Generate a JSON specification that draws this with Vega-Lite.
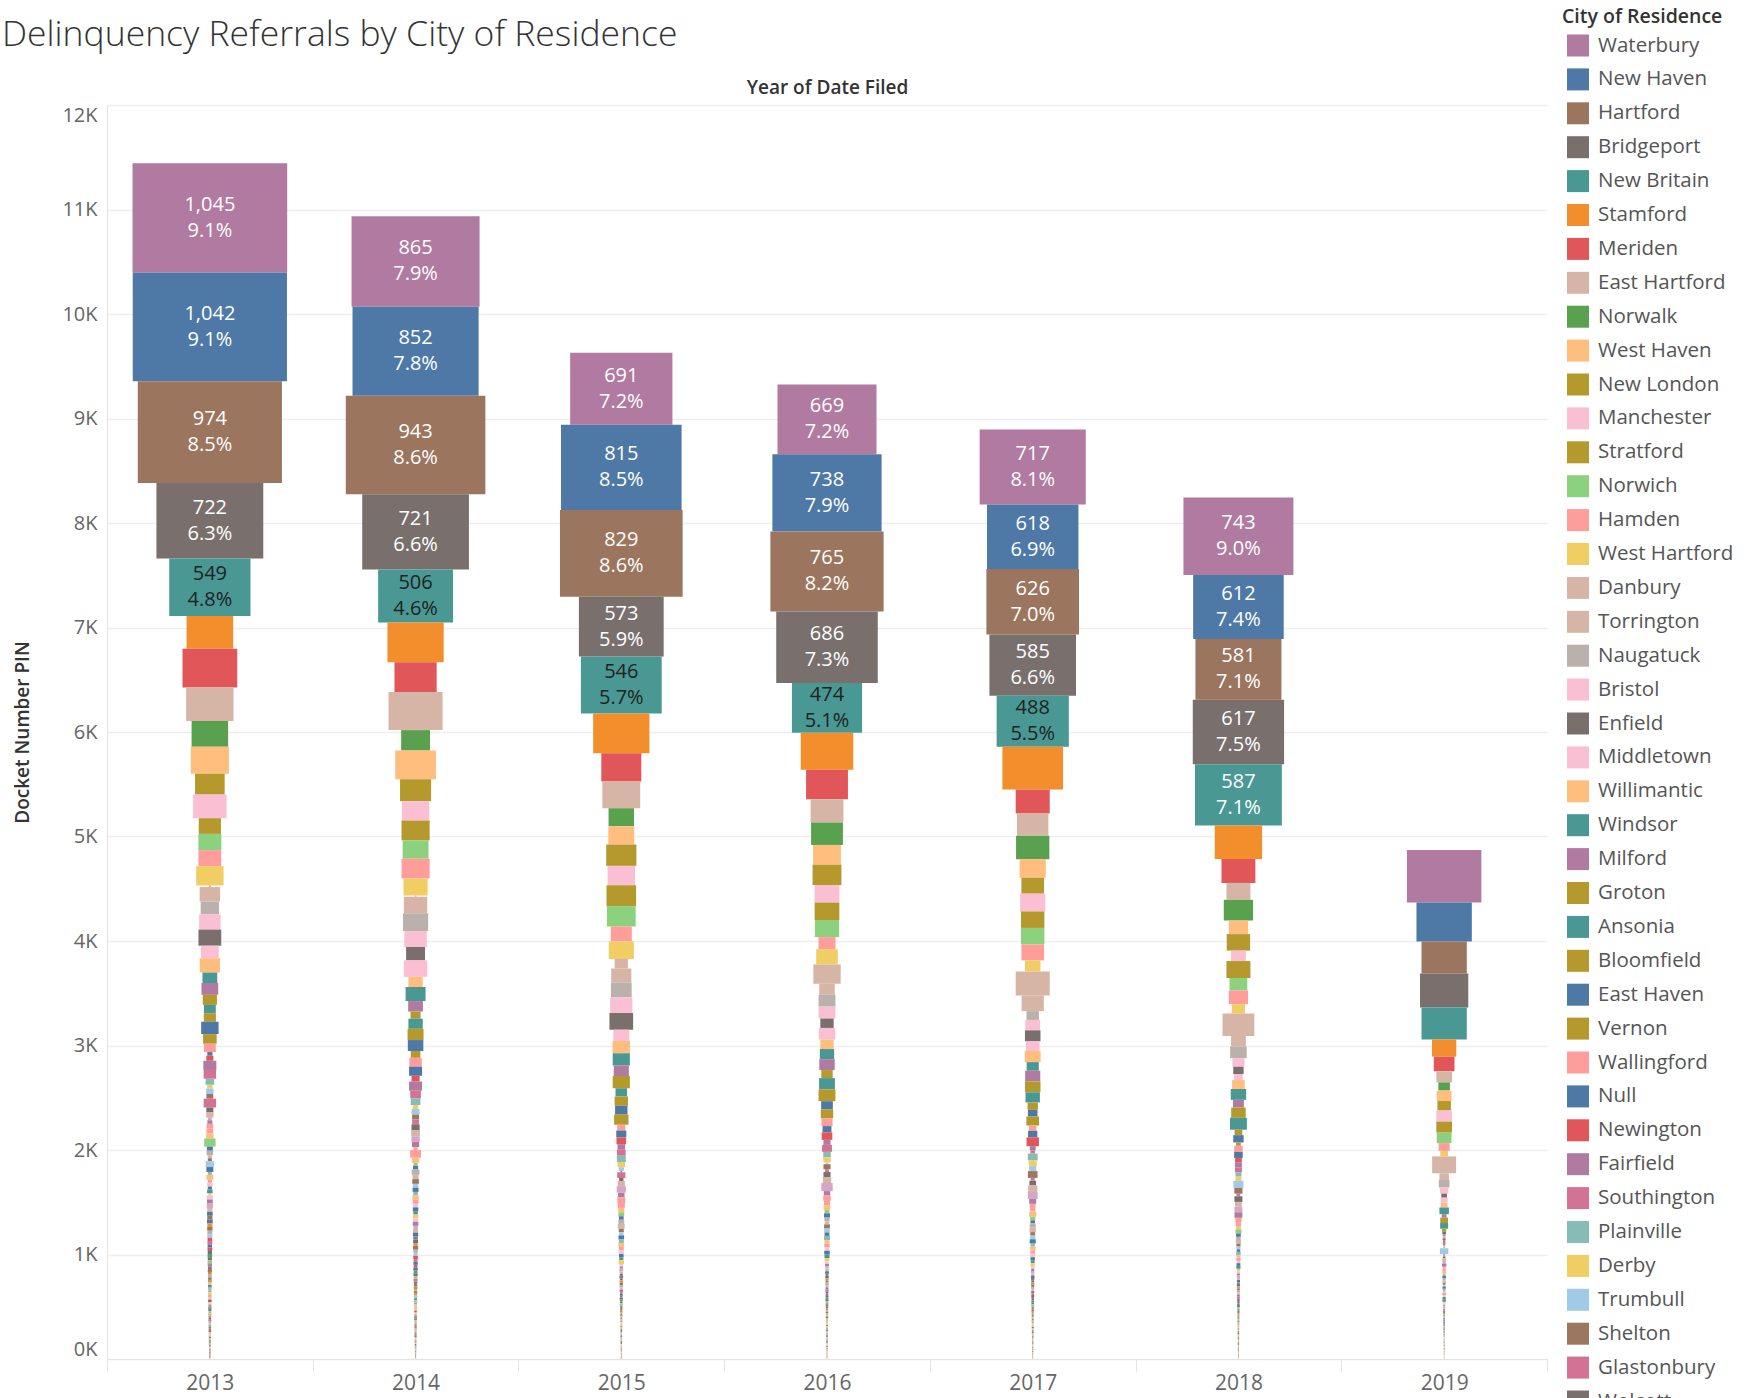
{
"$schema":"https://vega.github.io/schema/vega-lite/v6.json",
"width":1440,"height":1254,
"autosize":{"type":"none"},
"padding":{"left":107,"top":105,"right":199,"bottom":39},
"background":"white",
"config":{"view":{"stroke":null},"font":"Open Sans","axis":{"labelFont":"Open Sans","titleFont":"Open Sans"},"legend":{"labelFont":"Open Sans","titleFont":"Open Sans"}},
"title":{"text":"Delinquency Referrals by City of Residence","anchor":"start","frame":"group","dx":-105,"fontSize":35.5,"font":"Open Sans","fontWeight":300,"color":"#333333","baseline":"bottom","offset":-80},
"data":{"values":[
{"y":2013,"c":"Waterbury","n":1045,"p":"9.1%"},{"y":2014,"c":"Waterbury","n":865,"p":"7.9%"},{"y":2015,"c":"Waterbury","n":691,"p":"7.2%"},{"y":2016,"c":"Waterbury","n":669,"p":"7.2%"},{"y":2017,"c":"Waterbury","n":717,"p":"8.1%"},{"y":2018,"c":"Waterbury","n":743,"p":"9.0%"},{"y":2019,"c":"Waterbury","n":503},
{"y":2013,"c":"New Haven","n":1042,"p":"9.1%"},{"y":2014,"c":"New Haven","n":852,"p":"7.8%"},{"y":2015,"c":"New Haven","n":815,"p":"8.5%"},{"y":2016,"c":"New Haven","n":738,"p":"7.9%"},{"y":2017,"c":"New Haven","n":618,"p":"6.9%"},{"y":2018,"c":"New Haven","n":612,"p":"7.4%"},{"y":2019,"c":"New Haven","n":374},
{"y":2013,"c":"Hartford","n":974,"p":"8.5%"},{"y":2014,"c":"Hartford","n":943,"p":"8.6%"},{"y":2015,"c":"Hartford","n":829,"p":"8.6%"},{"y":2016,"c":"Hartford","n":765,"p":"8.2%"},{"y":2017,"c":"Hartford","n":626,"p":"7.0%"},{"y":2018,"c":"Hartford","n":581,"p":"7.1%"},{"y":2019,"c":"Hartford","n":306},
{"y":2013,"c":"Bridgeport","n":722,"p":"6.3%"},{"y":2014,"c":"Bridgeport","n":721,"p":"6.6%"},{"y":2015,"c":"Bridgeport","n":573,"p":"5.9%"},{"y":2016,"c":"Bridgeport","n":686,"p":"7.3%"},{"y":2017,"c":"Bridgeport","n":585,"p":"6.6%"},{"y":2018,"c":"Bridgeport","n":617,"p":"7.5%"},{"y":2019,"c":"Bridgeport","n":326},
{"y":2013,"c":"New Britain","n":549,"p":"4.8%"},{"y":2014,"c":"New Britain","n":506,"p":"4.6%"},{"y":2015,"c":"New Britain","n":546,"p":"5.7%"},{"y":2016,"c":"New Britain","n":474,"p":"5.1%"},{"y":2017,"c":"New Britain","n":488,"p":"5.5%"},{"y":2018,"c":"New Britain","n":587,"p":"7.1%"},{"y":2019,"c":"New Britain","n":306},
{"y":2013,"c":"Stamford","n":315},{"y":2014,"c":"Stamford","n":380},{"y":2015,"c":"Stamford","n":380},{"y":2016,"c":"Stamford","n":355},{"y":2017,"c":"Stamford","n":410},{"y":2018,"c":"Stamford","n":320},{"y":2019,"c":"Stamford","n":164},
{"y":2013,"c":"Meriden","n":370},{"y":2014,"c":"Meriden","n":285},{"y":2015,"c":"Meriden","n":270},{"y":2016,"c":"Meriden","n":283},{"y":2017,"c":"Meriden","n":230},{"y":2018,"c":"Meriden","n":229},{"y":2019,"c":"Meriden","n":140},
{"y":2013,"c":"East Hartford","n":320},{"y":2014,"c":"East Hartford","n":365},{"y":2015,"c":"East Hartford","n":256},{"y":2016,"c":"East Hartford","n":222},{"y":2017,"c":"East Hartford","n":212},{"y":2018,"c":"East Hartford","n":162},{"y":2019,"c":"East Hartford","n":106},
{"y":2013,"c":"Norwalk","n":247},{"y":2014,"c":"Norwalk","n":195},{"y":2015,"c":"Norwalk","n":172},{"y":2016,"c":"Norwalk","n":215},{"y":2017,"c":"Norwalk","n":225},{"y":2018,"c":"Norwalk","n":198},{"y":2019,"c":"Norwalk","n":78},
{"y":2013,"c":"West Haven","n":258},{"y":2014,"c":"West Haven","n":275},{"y":2015,"c":"West Haven","n":175},{"y":2016,"c":"West Haven","n":188},{"y":2017,"c":"West Haven","n":177},{"y":2018,"c":"West Haven","n":130},{"y":2019,"c":"West Haven","n":100},
{"y":2013,"c":"New London","n":200},{"y":2014,"c":"New London","n":210},{"y":2015,"c":"New London","n":204},{"y":2016,"c":"New London","n":195},{"y":2017,"c":"New London","n":153},{"y":2018,"c":"New London","n":158},{"y":2019,"c":"New London","n":91},
{"y":2013,"c":"Manchester","n":226},{"y":2014,"c":"Manchester","n":185},{"y":2015,"c":"Manchester","n":185},{"y":2016,"c":"Manchester","n":168},{"y":2017,"c":"Manchester","n":170},{"y":2018,"c":"Manchester","n":100},{"y":2019,"c":"Manchester","n":106},
{"y":2013,"c":"Stratford","n":150},{"y":2014,"c":"Stratford","n":190},{"y":2015,"c":"Stratford","n":200},{"y":2016,"c":"Stratford","n":167},{"y":2017,"c":"Stratford","n":158},{"y":2018,"c":"Stratford","n":162},{"y":2019,"c":"Stratford","n":106},
{"y":2013,"c":"Norwich","n":155},{"y":2014,"c":"Norwich","n":175},{"y":2015,"c":"Norwich","n":195},{"y":2016,"c":"Norwich","n":164},{"y":2017,"c":"Norwich","n":158},{"y":2018,"c":"Norwich","n":120},{"y":2019,"c":"Norwich","n":100},
{"y":2013,"c":"Hamden","n":154},{"y":2014,"c":"Hamden","n":190},{"y":2015,"c":"Hamden","n":142},{"y":2016,"c":"Hamden","n":115},{"y":2017,"c":"Hamden","n":153},{"y":2018,"c":"Hamden","n":130},{"y":2019,"c":"Hamden","n":75},
{"y":2013,"c":"West Hartford","n":185},{"y":2014,"c":"West Hartford","n":163},{"y":2015,"c":"West Hartford","n":170},{"y":2016,"c":"West Hartford","n":146},{"y":2017,"c":"West Hartford","n":105},{"y":2018,"c":"West Hartford","n":90},{"y":2019,"c":"West Hartford","n":52},
{"y":2013,"c":"Danbury","n":15},{"y":2014,"c":"Danbury","n":12},{"y":2015,"c":"Danbury","n":90},{"y":2016,"c":"Danbury","n":185},{"y":2017,"c":"Danbury","n":230},{"y":2018,"c":"Danbury","n":215},{"y":2019,"c":"Danbury","n":162},
{"y":2013,"c":"Torrington","n":138},{"y":2014,"c":"Torrington","n":158},{"y":2015,"c":"Torrington","n":136},{"y":2016,"c":"Torrington","n":105},{"y":2017,"c":"Torrington","n":150},{"y":2018,"c":"Torrington","n":100},{"y":2019,"c":"Torrington","n":64},
{"y":2013,"c":"Naugatuck","n":124},{"y":2014,"c":"Naugatuck","n":170},{"y":2015,"c":"Naugatuck","n":140},{"y":2016,"c":"Naugatuck","n":114},{"y":2017,"c":"Naugatuck","n":84},{"y":2018,"c":"Naugatuck","n":112},{"y":2019,"c":"Naugatuck","n":72},
{"y":2013,"c":"Bristol","n":145},{"y":2014,"c":"Bristol","n":152},{"y":2015,"c":"Bristol","n":150},{"y":2016,"c":"Bristol","n":114},{"y":2017,"c":"Bristol","n":100},{"y":2018,"c":"Bristol","n":82},{"y":2019,"c":"Bristol","n":58},
{"y":2013,"c":"Enfield","n":154},{"y":2014,"c":"Enfield","n":128},{"y":2015,"c":"Enfield","n":160},{"y":2016,"c":"Enfield","n":90},{"y":2017,"c":"Enfield","n":105},{"y":2018,"c":"Enfield","n":70},{"y":2019,"c":"Enfield","n":39},
{"y":2013,"c":"Middletown","n":120},{"y":2014,"c":"Middletown","n":158},{"y":2015,"c":"Middletown","n":108},{"y":2016,"c":"Middletown","n":112},{"y":2017,"c":"Middletown","n":92},{"y":2018,"c":"Middletown","n":58},{"y":2019,"c":"Middletown","n":47},
{"y":2013,"c":"Willimantic","n":137},{"y":2014,"c":"Willimantic","n":97},{"y":2015,"c":"Willimantic","n":118},{"y":2016,"c":"Willimantic","n":90},{"y":2017,"c":"Willimantic","n":107},{"y":2018,"c":"Willimantic","n":85},{"y":2019,"c":"Willimantic","n":47},
{"y":2013,"c":"Windsor","n":100},{"y":2014,"c":"Windsor","n":135},{"y":2015,"c":"Windsor","n":116},{"y":2016,"c":"Windsor","n":97},{"y":2017,"c":"Windsor","n":82},{"y":2018,"c":"Windsor","n":104},{"y":2019,"c":"Windsor","n":64},
{"y":2013,"c":"Milford","n":113},{"y":2014,"c":"Milford","n":100},{"y":2015,"c":"Milford","n":102},{"y":2016,"c":"Milford","n":104},{"y":2017,"c":"Milford","n":102},{"y":2018,"c":"Milford","n":74},{"y":2019,"c":"Milford","n":33},
{"y":2013,"c":"Groton","n":96},{"y":2014,"c":"Groton","n":68},{"y":2015,"c":"Groton","n":116},{"y":2016,"c":"Groton","n":77},{"y":2017,"c":"Groton","n":105},{"y":2018,"c":"Groton","n":98},{"y":2019,"c":"Groton","n":52},
{"y":2013,"c":"Ansonia","n":80},{"y":2014,"c":"Ansonia","n":97},{"y":2015,"c":"Ansonia","n":78},{"y":2016,"c":"Ansonia","n":107},{"y":2017,"c":"Ansonia","n":97},{"y":2018,"c":"Ansonia","n":114},{"y":2019,"c":"Ansonia","n":54},
{"y":2013,"c":"Bloomfield","n":82},{"y":2014,"c":"Bloomfield","n":108},{"y":2015,"c":"Bloomfield","n":90},{"y":2016,"c":"Bloomfield","n":114},{"y":2017,"c":"Bloomfield","n":70},{"y":2018,"c":"Bloomfield","n":52},{"y":2019,"c":"Bloomfield","n":29},
{"y":2013,"c":"East Haven","n":118},{"y":2014,"c":"East Haven","n":105},{"y":2015,"c":"East Haven","n":84},{"y":2016,"c":"East Haven","n":79},{"y":2017,"c":"East Haven","n":65},{"y":2018,"c":"East Haven","n":70},{"y":2019,"c":"East Haven","n":25},
{"y":2013,"c":"Vernon","n":92},{"y":2014,"c":"Vernon","n":65},{"y":2015,"c":"Vernon","n":97},{"y":2016,"c":"Vernon","n":84},{"y":2017,"c":"Vernon","n":86},{"y":2018,"c":"Vernon","n":32},{"y":2019,"c":"Vernon","n":19},
{"y":2013,"c":"Wallingford","n":80},{"y":2014,"c":"Wallingford","n":84},{"y":2015,"c":"Wallingford","n":55},{"y":2016,"c":"Wallingford","n":75},{"y":2017,"c":"Wallingford","n":50},{"y":2018,"c":"Wallingford","n":58},{"y":2019,"c":"Wallingford","n":20},
{"y":2013,"c":"Null","n":35},{"y":2014,"c":"Null","n":88},{"y":2015,"c":"Null","n":68},{"y":2016,"c":"Null","n":60},{"y":2017,"c":"Null","n":63},{"y":2018,"c":"Null","n":58},{"y":2019,"c":"Null","n":20},
{"y":2013,"c":"Newington","n":48},{"y":2014,"c":"Newington","n":55},{"y":2015,"c":"Newington","n":65},{"y":2016,"c":"Newington","n":72},{"y":2017,"c":"Newington","n":84},{"y":2018,"c":"Newington","n":45},{"y":2019,"c":"Newington","n":15},
{"y":2013,"c":"Fairfield","n":88},{"y":2014,"c":"Fairfield","n":88},{"y":2015,"c":"Fairfield","n":51},{"y":2016,"c":"Fairfield","n":48},{"y":2017,"c":"Fairfield","n":40},{"y":2018,"c":"Fairfield","n":47},{"y":2019,"c":"Fairfield","n":18},
{"y":2013,"c":"Southington","n":84},{"y":2014,"c":"Southington","n":72},{"y":2015,"c":"Southington","n":58},{"y":2016,"c":"Southington","n":67},{"y":2017,"c":"Southington","n":31},{"y":2018,"c":"Southington","n":47},{"y":2019,"c":"Southington","n":15},
{"y":2013,"c":"Plainville","n":58},{"y":2014,"c":"Plainville","n":65},{"y":2015,"c":"Plainville","n":60},{"y":2016,"c":"Plainville","n":51},{"y":2017,"c":"Plainville","n":66},{"y":2018,"c":"Plainville","n":40},{"y":2019,"c":"Plainville","n":12},
{"y":2013,"c":"Derby","n":37},{"y":2014,"c":"Derby","n":38},{"y":2015,"c":"Derby","n":51},{"y":2016,"c":"Derby","n":50},{"y":2017,"c":"Derby","n":54},{"y":2018,"c":"Derby","n":40},{"y":2019,"c":"Derby","n":14},
{"y":2013,"c":"Trumbull","n":50},{"y":2014,"c":"Trumbull","n":53},{"y":2015,"c":"Trumbull","n":35},{"y":2016,"c":"Trumbull","n":17},{"y":2017,"c":"Trumbull","n":48},{"y":2018,"c":"Trumbull","n":68},{"y":2019,"c":"Trumbull","n":57},
{"y":2013,"c":"Shelton","n":46},{"y":2014,"c":"Shelton","n":47},{"y":2015,"c":"Shelton","n":12},{"y":2016,"c":"Shelton","n":48},{"y":2017,"c":"Shelton","n":65},{"y":2018,"c":"Shelton","n":55},{"y":2019,"c":"Shelton","n":10},
{"y":2013,"c":"Glastonbury","n":84},{"y":2014,"c":"Glastonbury","n":46},{"y":2015,"c":"Glastonbury","n":55},{"y":2016,"c":"Glastonbury","n":27},{"y":2017,"c":"Glastonbury","n":27},{"y":2018,"c":"Glastonbury","n":25},{"y":2019,"c":"Glastonbury","n":12},
{"y":2013,"c":"Wolcott","n":48},{"y":2014,"c":"Wolcott","n":55},{"y":2015,"c":"Wolcott","n":29},{"y":2016,"c":"Wolcott","n":48},{"y":2017,"c":"Wolcott","n":45},{"y":2018,"c":"Wolcott","n":54},{"y":2019,"c":"Wolcott","n":17},
{"y":2013,"c":"Killingly","n":49},{"y":2014,"c":"Killingly","n":59},{"y":2015,"c":"Killingly","n":49},{"y":2016,"c":"Killingly","n":57},{"y":2017,"c":"Killingly","n":63},{"y":2018,"c":"Killingly","n":46},{"y":2019,"c":"Killingly","n":27},
{"y":2013,"c":"Plymouth","n":26},{"y":2014,"c":"Plymouth","n":56},{"y":2015,"c":"Plymouth","n":62},{"y":2016,"c":"Plymouth","n":77},{"y":2017,"c":"Plymouth","n":66},{"y":2018,"c":"Plymouth","n":53},{"y":2019,"c":"Plymouth","n":24},
{"y":2013,"c":"Seymour","n":34},{"y":2014,"c":"Seymour","n":49},{"y":2015,"c":"Seymour","n":44},{"y":2016,"c":"Seymour","n":43},{"y":2017,"c":"Seymour","n":47},{"y":2018,"c":"Seymour","n":53},{"y":2019,"c":"Seymour","n":30},
{"y":2013,"c":"Winchester","n":45},{"y":2014,"c":"Winchester","n":28},{"y":2015,"c":"Winchester","n":54},{"y":2016,"c":"Winchester","n":51},{"y":2017,"c":"Winchester","n":39},{"y":2018,"c":"Winchester","n":42},{"y":2019,"c":"Winchester","n":20},
{"y":2013,"c":"Watertown","n":45},{"y":2014,"c":"Watertown","n":73},{"y":2015,"c":"Watertown","n":48},{"y":2016,"c":"Watertown","n":41},{"y":2017,"c":"Watertown","n":35},{"y":2018,"c":"Watertown","n":36},{"y":2019,"c":"Watertown","n":22},
{"y":2013,"c":"Branford","n":50},{"y":2014,"c":"Branford","n":49},{"y":2015,"c":"Branford","n":42},{"y":2016,"c":"Branford","n":45},{"y":2017,"c":"Branford","n":49},{"y":2018,"c":"Branford","n":32},{"y":2019,"c":"Branford","n":26},
{"y":2013,"c":"North Haven","n":77},{"y":2014,"c":"North Haven","n":28},{"y":2015,"c":"North Haven","n":39},{"y":2016,"c":"North Haven","n":33},{"y":2017,"c":"North Haven","n":35},{"y":2018,"c":"North Haven","n":40},{"y":2019,"c":"North Haven","n":18},
{"y":2013,"c":"Cheshire","n":40},{"y":2014,"c":"Cheshire","n":35},{"y":2015,"c":"Cheshire","n":32},{"y":2016,"c":"Cheshire","n":41},{"y":2017,"c":"Cheshire","n":30},{"y":2018,"c":"Cheshire","n":32},{"y":2019,"c":"Cheshire","n":24},
{"y":2013,"c":"Wethersfield","n":44},{"y":2014,"c":"Wethersfield","n":52},{"y":2015,"c":"Wethersfield","n":40},{"y":2016,"c":"Wethersfield","n":35},{"y":2017,"c":"Wethersfield","n":40},{"y":2018,"c":"Wethersfield","n":30},{"y":2019,"c":"Wethersfield","n":21},
{"y":2013,"c":"New Milford","n":28},{"y":2014,"c":"New Milford","n":41},{"y":2015,"c":"New Milford","n":46},{"y":2016,"c":"New Milford","n":30},{"y":2017,"c":"New Milford","n":43},{"y":2018,"c":"New Milford","n":35},{"y":2019,"c":"New Milford","n":23},
{"y":2013,"c":"Montville","n":28},{"y":2014,"c":"Montville","n":45},{"y":2015,"c":"Montville","n":34},{"y":2016,"c":"Montville","n":39},{"y":2017,"c":"Montville","n":33},{"y":2018,"c":"Montville","n":28},{"y":2019,"c":"Montville","n":19},
{"y":2013,"c":"Rocky Hill","n":56},{"y":2014,"c":"Rocky Hill","n":37},{"y":2015,"c":"Rocky Hill","n":30},{"y":2016,"c":"Rocky Hill","n":38},{"y":2017,"c":"Rocky Hill","n":35},{"y":2018,"c":"Rocky Hill","n":27},{"y":2019,"c":"Rocky Hill","n":16},
{"y":2013,"c":"Windsor Locks","n":47},{"y":2014,"c":"Windsor Locks","n":40},{"y":2015,"c":"Windsor Locks","n":38},{"y":2016,"c":"Windsor Locks","n":33},{"y":2017,"c":"Windsor Locks","n":41},{"y":2018,"c":"Windsor Locks","n":24},{"y":2019,"c":"Windsor Locks","n":22},
{"y":2013,"c":"East Windsor","n":28},{"y":2014,"c":"East Windsor","n":32},{"y":2015,"c":"East Windsor","n":34},{"y":2016,"c":"East Windsor","n":40},{"y":2017,"c":"East Windsor","n":29},{"y":2018,"c":"East Windsor","n":31},{"y":2019,"c":"East Windsor","n":20},
{"y":2013,"c":"Stonington","n":47},{"y":2014,"c":"Stonington","n":43},{"y":2015,"c":"Stonington","n":39},{"y":2016,"c":"Stonington","n":35},{"y":2017,"c":"Stonington","n":38},{"y":2018,"c":"Stonington","n":26},{"y":2019,"c":"Stonington","n":17},
{"y":2013,"c":"Waterford","n":28},{"y":2014,"c":"Waterford","n":39},{"y":2015,"c":"Waterford","n":32},{"y":2016,"c":"Waterford","n":36},{"y":2017,"c":"Waterford","n":31},{"y":2018,"c":"Waterford","n":29},{"y":2019,"c":"Waterford","n":25},
{"y":2013,"c":"Ledyard","n":37},{"y":2014,"c":"Ledyard","n":34},{"y":2015,"c":"Ledyard","n":35},{"y":2016,"c":"Ledyard","n":31},{"y":2017,"c":"Ledyard","n":33},{"y":2018,"c":"Ledyard","n":22},{"y":2019,"c":"Ledyard","n":18},
{"y":2013,"c":"Griswold","n":28},{"y":2014,"c":"Griswold","n":37},{"y":2015,"c":"Griswold","n":31},{"y":2016,"c":"Griswold","n":37},{"y":2017,"c":"Griswold","n":30},{"y":2018,"c":"Griswold","n":26},{"y":2019,"c":"Griswold","n":21},
{"y":2013,"c":"Plainfield","n":37},{"y":2014,"c":"Plainfield","n":31},{"y":2015,"c":"Plainfield","n":28},{"y":2016,"c":"Plainfield","n":34},{"y":2017,"c":"Plainfield","n":27},{"y":2018,"c":"Plainfield","n":28},{"y":2019,"c":"Plainfield","n":24},
{"y":2013,"c":"Windham","n":18},{"y":2014,"c":"Windham","n":36},{"y":2015,"c":"Windham","n":37},{"y":2016,"c":"Windham","n":32},{"y":2017,"c":"Windham","n":29},{"y":2018,"c":"Windham","n":23},{"y":2019,"c":"Windham","n":17},
{"y":2013,"c":"Putnam","n":41},{"y":2014,"c":"Putnam","n":35},{"y":2015,"c":"Putnam","n":24},{"y":2016,"c":"Putnam","n":22},{"y":2017,"c":"Putnam","n":25},{"y":2018,"c":"Putnam","n":22},{"y":2019,"c":"Putnam","n":14},
{"y":2013,"c":"Bethel","n":39},{"y":2014,"c":"Bethel","n":38},{"y":2015,"c":"Bethel","n":21},{"y":2016,"c":"Bethel","n":26},{"y":2017,"c":"Bethel","n":21},{"y":2018,"c":"Bethel","n":20},{"y":2019,"c":"Bethel","n":12},
{"y":2013,"c":"Brookfield","n":42},{"y":2014,"c":"Brookfield","n":30},{"y":2015,"c":"Brookfield","n":26},{"y":2016,"c":"Brookfield","n":21},{"y":2017,"c":"Brookfield","n":23},{"y":2018,"c":"Brookfield","n":23},{"y":2019,"c":"Brookfield","n":15},
{"y":2013,"c":"Thomaston","n":36},{"y":2014,"c":"Thomaston","n":34},{"y":2015,"c":"Thomaston","n":22},{"y":2016,"c":"Thomaston","n":24},{"y":2017,"c":"Thomaston","n":20},{"y":2018,"c":"Thomaston","n":19},{"y":2019,"c":"Thomaston","n":13},
{"y":2013,"c":"Berlin","n":38},{"y":2014,"c":"Berlin","n":36},{"y":2015,"c":"Berlin","n":20},{"y":2016,"c":"Berlin","n":25},{"y":2017,"c":"Berlin","n":24},{"y":2018,"c":"Berlin","n":21},{"y":2019,"c":"Berlin","n":11},
{"y":2013,"c":"Cromwell","n":35},{"y":2014,"c":"Cromwell","n":31},{"y":2015,"c":"Cromwell","n":25},{"y":2016,"c":"Cromwell","n":20},{"y":2017,"c":"Cromwell","n":22},{"y":2018,"c":"Cromwell","n":18},{"y":2019,"c":"Cromwell","n":14},
{"y":2013,"c":"Colchester","n":39},{"y":2014,"c":"Colchester","n":33},{"y":2015,"c":"Colchester","n":19},{"y":2016,"c":"Colchester","n":23},{"y":2017,"c":"Colchester","n":19},{"y":2018,"c":"Colchester","n":22},{"y":2019,"c":"Colchester","n":12},
{"y":2013,"c":"South Windsor","n":34},{"y":2014,"c":"South Windsor","n":29},{"y":2015,"c":"South Windsor","n":23},{"y":2016,"c":"South Windsor","n":22},{"y":2017,"c":"South Windsor","n":23},{"y":2018,"c":"South Windsor","n":20},{"y":2019,"c":"South Windsor","n":13},
{"y":2013,"c":"Ellington","n":36},{"y":2014,"c":"Ellington","n":35},{"y":2015,"c":"Ellington","n":21},{"y":2016,"c":"Ellington","n":19},{"y":2017,"c":"Ellington","n":21},{"y":2018,"c":"Ellington","n":19},{"y":2019,"c":"Ellington","n":11},
{"y":2013,"c":"Stafford","n":33},{"y":2014,"c":"Stafford","n":30},{"y":2015,"c":"Stafford","n":24},{"y":2016,"c":"Stafford","n":24},{"y":2017,"c":"Stafford","n":20},{"y":2018,"c":"Stafford","n":21},{"y":2019,"c":"Stafford","n":12},
{"y":2013,"c":"Coventry","n":34},{"y":2014,"c":"Coventry","n":28},{"y":2015,"c":"Coventry","n":19},{"y":2016,"c":"Coventry","n":21},{"y":2017,"c":"Coventry","n":19},{"y":2018,"c":"Coventry","n":18},{"y":2019,"c":"Coventry","n":11},
{"y":2013,"c":"Tolland","n":31},{"y":2014,"c":"Tolland","n":31},{"y":2015,"c":"Tolland","n":22},{"y":2016,"c":"Tolland","n":18},{"y":2017,"c":"Tolland","n":21},{"y":2018,"c":"Tolland","n":17},{"y":2019,"c":"Tolland","n":12},
{"y":2013,"c":"Somers","n":33},{"y":2014,"c":"Somers","n":27},{"y":2015,"c":"Somers","n":18},{"y":2016,"c":"Somers","n":22},{"y":2017,"c":"Somers","n":17},{"y":2018,"c":"Somers","n":19},{"y":2019,"c":"Somers","n":10},
{"y":2013,"c":"Suffield","n":30},{"y":2014,"c":"Suffield","n":29},{"y":2015,"c":"Suffield","n":20},{"y":2016,"c":"Suffield","n":19},{"y":2017,"c":"Suffield","n":20},{"y":2018,"c":"Suffield","n":16},{"y":2019,"c":"Suffield","n":11},
{"y":2013,"c":"East Lyme","n":32},{"y":2014,"c":"East Lyme","n":25},{"y":2015,"c":"East Lyme","n":17},{"y":2016,"c":"East Lyme","n":17},{"y":2017,"c":"East Lyme","n":18},{"y":2018,"c":"East Lyme","n":18},{"y":2019,"c":"East Lyme","n":9},
{"y":2013,"c":"Old Saybrook","n":29},{"y":2014,"c":"Old Saybrook","n":30},{"y":2015,"c":"Old Saybrook","n":21},{"y":2016,"c":"Old Saybrook","n":20},{"y":2017,"c":"Old Saybrook","n":16},{"y":2018,"c":"Old Saybrook","n":15},{"y":2019,"c":"Old Saybrook","n":12},
{"y":2013,"c":"Clinton","n":31},{"y":2014,"c":"Clinton","n":26},{"y":2015,"c":"Clinton","n":18},{"y":2016,"c":"Clinton","n":18},{"y":2017,"c":"Clinton","n":19},{"y":2018,"c":"Clinton","n":17},{"y":2019,"c":"Clinton","n":10},
{"y":2013,"c":"Madison","n":28},{"y":2014,"c":"Madison","n":28},{"y":2015,"c":"Madison","n":16},{"y":2016,"c":"Madison","n":21},{"y":2017,"c":"Madison","n":17},{"y":2018,"c":"Madison","n":19},{"y":2019,"c":"Madison","n":11},
{"y":2013,"c":"Guilford","n":30},{"y":2014,"c":"Guilford","n":24},{"y":2015,"c":"Guilford","n":20},{"y":2016,"c":"Guilford","n":16},{"y":2017,"c":"Guilford","n":20},{"y":2018,"c":"Guilford","n":16},{"y":2019,"c":"Guilford","n":9},
{"y":2013,"c":"North Branford","n":29},{"y":2014,"c":"North Branford","n":27},{"y":2015,"c":"North Branford","n":17},{"y":2016,"c":"North Branford","n":19},{"y":2017,"c":"North Branford","n":16},{"y":2018,"c":"North Branford","n":15},{"y":2019,"c":"North Branford","n":10},
{"y":2013,"c":"Orange","n":26},{"y":2014,"c":"Orange","n":24},{"y":2015,"c":"Orange","n":16},{"y":2016,"c":"Orange","n":17},{"y":2017,"c":"Orange","n":15},{"y":2018,"c":"Orange","n":15},{"y":2019,"c":"Orange","n":9},
{"y":2013,"c":"Woodbridge","n":28},{"y":2014,"c":"Woodbridge","n":22},{"y":2015,"c":"Woodbridge","n":14},{"y":2016,"c":"Woodbridge","n":15},{"y":2017,"c":"Woodbridge","n":17},{"y":2018,"c":"Woodbridge","n":14},{"y":2019,"c":"Woodbridge","n":10},
{"y":2013,"c":"Prospect","n":25},{"y":2014,"c":"Prospect","n":25},{"y":2015,"c":"Prospect","n":17},{"y":2016,"c":"Prospect","n":16},{"y":2017,"c":"Prospect","n":14},{"y":2018,"c":"Prospect","n":13},{"y":2019,"c":"Prospect","n":8},
{"y":2013,"c":"Oxford","n":27},{"y":2014,"c":"Oxford","n":21},{"y":2015,"c":"Oxford","n":15},{"y":2016,"c":"Oxford","n":14},{"y":2017,"c":"Oxford","n":16},{"y":2018,"c":"Oxford","n":16},{"y":2019,"c":"Oxford","n":9},
{"y":2013,"c":"Beacon Falls","n":24},{"y":2014,"c":"Beacon Falls","n":23},{"y":2015,"c":"Beacon Falls","n":13},{"y":2016,"c":"Beacon Falls","n":18},{"y":2017,"c":"Beacon Falls","n":13},{"y":2018,"c":"Beacon Falls","n":12},{"y":2019,"c":"Beacon Falls","n":10},
{"y":2013,"c":"Southbury","n":26},{"y":2014,"c":"Southbury","n":20},{"y":2015,"c":"Southbury","n":16},{"y":2016,"c":"Southbury","n":13},{"y":2017,"c":"Southbury","n":15},{"y":2018,"c":"Southbury","n":14},{"y":2019,"c":"Southbury","n":7},
{"y":2013,"c":"Middlebury","n":23},{"y":2014,"c":"Middlebury","n":24},{"y":2015,"c":"Middlebury","n":14},{"y":2016,"c":"Middlebury","n":15},{"y":2017,"c":"Middlebury","n":14},{"y":2018,"c":"Middlebury","n":15},{"y":2019,"c":"Middlebury","n":9},
{"y":2013,"c":"Newtown","n":25},{"y":2014,"c":"Newtown","n":19},{"y":2015,"c":"Newtown","n":12},{"y":2016,"c":"Newtown","n":16},{"y":2017,"c":"Newtown","n":12},{"y":2018,"c":"Newtown","n":13},{"y":2019,"c":"Newtown","n":8},
{"y":2013,"c":"Monroe","n":24},{"y":2014,"c":"Monroe","n":22},{"y":2015,"c":"Monroe","n":15},{"y":2016,"c":"Monroe","n":14},{"y":2017,"c":"Monroe","n":16},{"y":2018,"c":"Monroe","n":12},{"y":2019,"c":"Monroe","n":9},
{"y":2013,"c":"Ridgefield","n":22},{"y":2014,"c":"Ridgefield","n":21},{"y":2015,"c":"Ridgefield","n":13},{"y":2016,"c":"Ridgefield","n":13},{"y":2017,"c":"Ridgefield","n":13},{"y":2018,"c":"Ridgefield","n":14},{"y":2019,"c":"Ridgefield","n":8},
{"y":2013,"c":"Wilton","n":25},{"y":2014,"c":"Wilton","n":20},{"y":2015,"c":"Wilton","n":13},{"y":2016,"c":"Wilton","n":14},{"y":2017,"c":"Wilton","n":13},{"y":2018,"c":"Wilton","n":12},{"y":2019,"c":"Wilton","n":8},
{"y":2013,"c":"Westport","n":23},{"y":2014,"c":"Westport","n":18},{"y":2015,"c":"Westport","n":11},{"y":2016,"c":"Westport","n":12},{"y":2017,"c":"Westport","n":11},{"y":2018,"c":"Westport","n":11},{"y":2019,"c":"Westport","n":7},
{"y":2013,"c":"Darien","n":21},{"y":2014,"c":"Darien","n":21},{"y":2015,"c":"Darien","n":14},{"y":2016,"c":"Darien","n":13},{"y":2017,"c":"Darien","n":12},{"y":2018,"c":"Darien","n":13},{"y":2019,"c":"Darien","n":9},
{"y":2013,"c":"New Canaan","n":24},{"y":2014,"c":"New Canaan","n":17},{"y":2015,"c":"New Canaan","n":12},{"y":2016,"c":"New Canaan","n":11},{"y":2017,"c":"New Canaan","n":14},{"y":2018,"c":"New Canaan","n":10},{"y":2019,"c":"New Canaan","n":7},
{"y":2013,"c":"Greenwich","n":22},{"y":2014,"c":"Greenwich","n":19},{"y":2015,"c":"Greenwich","n":10},{"y":2016,"c":"Greenwich","n":14},{"y":2017,"c":"Greenwich","n":10},{"y":2018,"c":"Greenwich","n":12},{"y":2019,"c":"Greenwich","n":8},
{"y":2013,"c":"Simsbury","n":20},{"y":2014,"c":"Simsbury","n":16},{"y":2015,"c":"Simsbury","n":13},{"y":2016,"c":"Simsbury","n":12},{"y":2017,"c":"Simsbury","n":12},{"y":2018,"c":"Simsbury","n":11},{"y":2019,"c":"Simsbury","n":6},
{"y":2013,"c":"Avon","n":23},{"y":2014,"c":"Avon","n":20},{"y":2015,"c":"Avon","n":11},{"y":2016,"c":"Avon","n":10},{"y":2017,"c":"Avon","n":11},{"y":2018,"c":"Avon","n":9},{"y":2019,"c":"Avon","n":8},
{"y":2013,"c":"Farmington","n":21},{"y":2014,"c":"Farmington","n":18},{"y":2015,"c":"Farmington","n":12},{"y":2016,"c":"Farmington","n":13},{"y":2017,"c":"Farmington","n":13},{"y":2018,"c":"Farmington","n":12},{"y":2019,"c":"Farmington","n":7},
{"y":2013,"c":"Canton","n":19},{"y":2014,"c":"Canton","n":15},{"y":2015,"c":"Canton","n":10},{"y":2016,"c":"Canton","n":11},{"y":2017,"c":"Canton","n":10},{"y":2018,"c":"Canton","n":10},{"y":2019,"c":"Canton","n":6},
{"y":2013,"c":"Burlington","n":22},{"y":2014,"c":"Burlington","n":17},{"y":2015,"c":"Burlington","n":11},{"y":2016,"c":"Burlington","n":12},{"y":2017,"c":"Burlington","n":11},{"y":2018,"c":"Burlington","n":11},{"y":2019,"c":"Burlington","n":7},
{"y":2013,"c":"Portland","n":19},{"y":2014,"c":"Portland","n":16},{"y":2015,"c":"Portland","n":10},{"y":2016,"c":"Portland","n":11},{"y":2017,"c":"Portland","n":10},{"y":2018,"c":"Portland","n":10},{"y":2019,"c":"Portland","n":6},
{"y":2013,"c":"East Hampton","n":17},{"y":2014,"c":"East Hampton","n":14},{"y":2015,"c":"East Hampton","n":12},{"y":2016,"c":"East Hampton","n":10},{"y":2017,"c":"East Hampton","n":11},{"y":2018,"c":"East Hampton","n":9},{"y":2019,"c":"East Hampton","n":7},
{"y":2013,"c":"Sterling","n":20},{"y":2014,"c":"Sterling","n":17},{"y":2015,"c":"Sterling","n":9},{"y":2016,"c":"Sterling","n":12},{"y":2017,"c":"Sterling","n":9},{"y":2018,"c":"Sterling","n":11},{"y":2019,"c":"Sterling","n":5},
{"y":2013,"c":"Thompson","n":18},{"y":2014,"c":"Thompson","n":15},{"y":2015,"c":"Thompson","n":11},{"y":2016,"c":"Thompson","n":9},{"y":2017,"c":"Thompson","n":10},{"y":2018,"c":"Thompson","n":8},{"y":2019,"c":"Thompson","n":6},
{"y":2013,"c":"Woodstock","n":16},{"y":2014,"c":"Woodstock","n":13},{"y":2015,"c":"Woodstock","n":10},{"y":2016,"c":"Woodstock","n":11},{"y":2017,"c":"Woodstock","n":8},{"y":2018,"c":"Woodstock","n":10},{"y":2019,"c":"Woodstock","n":7},
{"y":2013,"c":"Lisbon","n":19},{"y":2014,"c":"Lisbon","n":16},{"y":2015,"c":"Lisbon","n":8},{"y":2016,"c":"Lisbon","n":10},{"y":2017,"c":"Lisbon","n":11},{"y":2018,"c":"Lisbon","n":9},{"y":2019,"c":"Lisbon","n":5},
{"y":2013,"c":"Preston","n":17},{"y":2014,"c":"Preston","n":12},{"y":2015,"c":"Preston","n":11},{"y":2016,"c":"Preston","n":8},{"y":2017,"c":"Preston","n":9},{"y":2018,"c":"Preston","n":8},{"y":2019,"c":"Preston","n":6},
{"y":2013,"c":"North Stonington","n":15},{"y":2014,"c":"North Stonington","n":14},{"y":2015,"c":"North Stonington","n":9},{"y":2016,"c":"North Stonington","n":11},{"y":2017,"c":"North Stonington","n":10},{"y":2018,"c":"North Stonington","n":10},{"y":2019,"c":"North Stonington","n":5},
{"y":2013,"c":"Canterbury","n":18},{"y":2014,"c":"Canterbury","n":15},{"y":2015,"c":"Canterbury","n":10},{"y":2016,"c":"Canterbury","n":9},{"y":2017,"c":"Canterbury","n":8},{"y":2018,"c":"Canterbury","n":9},{"y":2019,"c":"Canterbury","n":6},
{"y":2013,"c":"Brooklyn","n":16},{"y":2014,"c":"Brooklyn","n":13},{"y":2015,"c":"Brooklyn","n":8},{"y":2016,"c":"Brooklyn","n":10},{"y":2017,"c":"Brooklyn","n":9},{"y":2018,"c":"Brooklyn","n":8},{"y":2019,"c":"Brooklyn","n":5},
{"y":2013,"c":"Mansfield","n":17},{"y":2014,"c":"Mansfield","n":12},{"y":2015,"c":"Mansfield","n":9},{"y":2016,"c":"Mansfield","n":9},{"y":2017,"c":"Mansfield","n":8},{"y":2018,"c":"Mansfield","n":8},{"y":2019,"c":"Mansfield","n":5},
{"y":2013,"c":"Hebron","n":15},{"y":2014,"c":"Hebron","n":14},{"y":2015,"c":"Hebron","n":7},{"y":2016,"c":"Hebron","n":8},{"y":2017,"c":"Hebron","n":9},{"y":2018,"c":"Hebron","n":7},{"y":2019,"c":"Hebron","n":4},
{"y":2013,"c":"Lebanon","n":14},{"y":2014,"c":"Lebanon","n":11},{"y":2015,"c":"Lebanon","n":8},{"y":2016,"c":"Lebanon","n":10},{"y":2017,"c":"Lebanon","n":7},{"y":2018,"c":"Lebanon","n":9},{"y":2019,"c":"Lebanon","n":6},
{"y":2013,"c":"Columbia","n":16},{"y":2014,"c":"Columbia","n":13},{"y":2015,"c":"Columbia","n":10},{"y":2016,"c":"Columbia","n":7},{"y":2017,"c":"Columbia","n":8},{"y":2018,"c":"Columbia","n":7},{"y":2019,"c":"Columbia","n":5},
{"y":2013,"c":"Bolton","n":14},{"y":2014,"c":"Bolton","n":10},{"y":2015,"c":"Bolton","n":7},{"y":2016,"c":"Bolton","n":9},{"y":2017,"c":"Bolton","n":6},{"y":2018,"c":"Bolton","n":8},{"y":2019,"c":"Bolton","n":4},
{"y":2013,"c":"Haddam","n":13},{"y":2014,"c":"Haddam","n":12},{"y":2015,"c":"Haddam","n":8},{"y":2016,"c":"Haddam","n":8},{"y":2017,"c":"Haddam","n":9},{"y":2018,"c":"Haddam","n":6},{"y":2019,"c":"Haddam","n":5},
{"y":2013,"c":"East Haddam","n":15},{"y":2014,"c":"East Haddam","n":11},{"y":2015,"c":"East Haddam","n":6},{"y":2016,"c":"East Haddam","n":9},{"y":2017,"c":"East Haddam","n":7},{"y":2018,"c":"East Haddam","n":8},{"y":2019,"c":"East Haddam","n":4},
{"y":2013,"c":"Deep River","n":13},{"y":2014,"c":"Deep River","n":9},{"y":2015,"c":"Deep River","n":9},{"y":2016,"c":"Deep River","n":7},{"y":2017,"c":"Deep River","n":8},{"y":2018,"c":"Deep River","n":7},{"y":2019,"c":"Deep River","n":5},
{"y":2013,"c":"Essex","n":12},{"y":2014,"c":"Essex","n":12},{"y":2015,"c":"Essex","n":7},{"y":2016,"c":"Essex","n":8},{"y":2017,"c":"Essex","n":7},{"y":2018,"c":"Essex","n":6},{"y":2019,"c":"Essex","n":4},
{"y":2013,"c":"Westbrook","n":14},{"y":2014,"c":"Westbrook","n":10},{"y":2015,"c":"Westbrook","n":8},{"y":2016,"c":"Westbrook","n":6},{"y":2017,"c":"Westbrook","n":6},{"y":2018,"c":"Westbrook","n":7},{"y":2019,"c":"Westbrook","n":4},
{"y":2013,"c":"Old Lyme","n":11},{"y":2014,"c":"Old Lyme","n":9},{"y":2015,"c":"Old Lyme","n":6},{"y":2016,"c":"Old Lyme","n":7},{"y":2017,"c":"Old Lyme","n":6},{"y":2018,"c":"Old Lyme","n":6},{"y":2019,"c":"Old Lyme","n":4},
{"y":2013,"c":"Salem","n":10},{"y":2014,"c":"Salem","n":8},{"y":2015,"c":"Salem","n":7},{"y":2016,"c":"Salem","n":6},{"y":2017,"c":"Salem","n":5},{"y":2018,"c":"Salem","n":5},{"y":2019,"c":"Salem","n":3},
{"y":2013,"c":"Durham","n":12},{"y":2014,"c":"Durham","n":10},{"y":2015,"c":"Durham","n":5},{"y":2016,"c":"Durham","n":8},{"y":2017,"c":"Durham","n":7},{"y":2018,"c":"Durham","n":6},{"y":2019,"c":"Durham","n":4},
{"y":2013,"c":"Litchfield","n":9},{"y":2014,"c":"Litchfield","n":7},{"y":2015,"c":"Litchfield","n":6},{"y":2016,"c":"Litchfield","n":5},{"y":2017,"c":"Litchfield","n":5},{"y":2018,"c":"Litchfield","n":5},{"y":2019,"c":"Litchfield","n":3},
{"y":2013,"c":"Harwinton","n":11},{"y":2014,"c":"Harwinton","n":9},{"y":2015,"c":"Harwinton","n":7},{"y":2016,"c":"Harwinton","n":6},{"y":2017,"c":"Harwinton","n":6},{"y":2018,"c":"Harwinton","n":4},{"y":2019,"c":"Harwinton","n":4},
{"y":2013,"c":"New Hartford","n":10},{"y":2014,"c":"New Hartford","n":8},{"y":2015,"c":"New Hartford","n":5},{"y":2016,"c":"New Hartford","n":7},{"y":2017,"c":"New Hartford","n":4},{"y":2018,"c":"New Hartford","n":6},{"y":2019,"c":"New Hartford","n":3},
{"y":2013,"c":"Granby","n":9},{"y":2014,"c":"Granby","n":6},{"y":2015,"c":"Granby","n":6},{"y":2016,"c":"Granby","n":5},{"y":2017,"c":"Granby","n":6},{"y":2018,"c":"Granby","n":5},{"y":2019,"c":"Granby","n":3},
{"y":2013,"c":"East Granby","n":10},{"y":2014,"c":"East Granby","n":8},{"y":2015,"c":"East Granby","n":4},{"y":2016,"c":"East Granby","n":6},{"y":2017,"c":"East Granby","n":5},{"y":2018,"c":"East Granby","n":5},{"y":2019,"c":"East Granby","n":4},
{"y":2013,"c":"Bethany","n":8},{"y":2014,"c":"Bethany","n":7},{"y":2015,"c":"Bethany","n":6},{"y":2016,"c":"Bethany","n":5},{"y":2017,"c":"Bethany","n":5},{"y":2018,"c":"Bethany","n":4},{"y":2019,"c":"Bethany","n":3},
{"y":2013,"c":"Marlborough","n":9},{"y":2014,"c":"Marlborough","n":8},{"y":2015,"c":"Marlborough","n":5},{"y":2016,"c":"Marlborough","n":6},{"y":2017,"c":"Marlborough","n":6},{"y":2018,"c":"Marlborough","n":5},{"y":2019,"c":"Marlborough","n":3}
]},
"transform":[
{"window":[{"op":"row_number","as":"r"}],"groupby":["y"]},
{"stack":"n","groupby":["y"],"sort":[{"field":"r","order":"descending"}],"as":["v0","v1"]},
{"calculate":"(datum.v0+datum.v1)/2","as":"m"}
],
"layer":[
{"mark":{"type":"bar"},
 "encoding":{
  "x":{"field":"y","type":"ordinal","scale":{"type":"band","paddingInner":0,"paddingOuter":0},
       "axis":{"orient":"bottom","title":null,"labelAngle":0,"labelFontSize":21,"labelColor":"#666666","labelPadding":1,"ticks":true,"tickBand":"extent","tickSize":12,"tickColor":"#e3e3e3","domain":true,"domainColor":"#e3e3e3","grid":false}},
  "y":{"field":"v1","type":"quantitative","scale":{"domain":[0,12000],"nice":false},
       "axis":{"title":"Docket Number PIN","titleFontSize":19,"titleFontWeight":600,"titleColor":"#333333","titleX":-85,"titleY":627,"titleAlign":"center","titleBaseline":"middle",
               "values":[0,1000,2000,3000,4000,5000,6000,7000,8000,9000,10000,11000,12000],"labelExpr":"(datum.value/1000)+'K'","labelFlush":true,"labelFlushOffset":0,
               "labelFontSize":20,"labelColor":"#666666","labelPadding":10,"ticks":false,"domain":true,"domainColor":"#e3e3e3","grid":true,"gridColor":"#eeeeee","gridWidth":1.5}},
  "y2":{"field":"v0"},
  "size":{"field":"n","type":"quantitative","scale":{"type":"linear","domain":[0,1000],"range":[0,148]},"legend":null},
  "color":{"field":"c","type":"nominal",
   "scale":{"domain":["Waterbury","New Haven","Hartford","Bridgeport","New Britain","Stamford","Meriden","East Hartford","Norwalk","West Haven","New London","Manchester","Stratford","Norwich","Hamden","West Hartford","Danbury","Torrington","Naugatuck","Bristol","Enfield","Middletown","Willimantic","Windsor","Milford","Groton","Ansonia","Bloomfield","East Haven","Vernon","Wallingford","Null","Newington","Fairfield","Southington","Plainville","Derby","Trumbull","Shelton","Glastonbury","Wolcott","Killingly","Plymouth","Seymour","Winchester","Watertown","Branford","North Haven","Cheshire","Wethersfield","New Milford","Montville","Rocky Hill","Windsor Locks","East Windsor","Stonington","Waterford","Ledyard","Griswold","Plainfield","Windham","Putnam","Bethel","Brookfield","Thomaston","Berlin","Cromwell","Colchester","South Windsor","Ellington","Stafford","Coventry","Tolland","Somers","Suffield","East Lyme","Old Saybrook","Clinton","Madison","Guilford","North Branford","Orange","Woodbridge","Prospect","Oxford","Beacon Falls","Southbury","Middlebury","Newtown","Monroe","Ridgefield","Wilton","Westport","Darien","New Canaan","Greenwich","Simsbury","Avon","Farmington","Canton","Burlington","Portland","East Hampton","Sterling","Thompson","Woodstock","Lisbon","Preston","North Stonington","Canterbury","Brooklyn","Mansfield","Hebron","Lebanon","Columbia","Bolton","Haddam","East Haddam","Deep River","Essex","Westbrook","Old Lyme","Salem","Durham","Litchfield","Harwinton","New Hartford","Granby","East Granby","Bethany","Marlborough"],
    "range":["#b07aa1","#4e79a7","#9c755f","#79706e","#499894","#f28e2b","#e15759","#d7b5a6","#59a14f","#ffbe7d","#b6992d","#fabfd2","#b6992d","#8cd17d","#ff9d9a","#f1ce63","#d7b5a6","#d7b5a6","#bab0ac","#fabfd2","#79706e","#fabfd2","#ffbe7d","#499894","#b07aa1","#b6992d","#499894","#b6992d","#4e79a7","#b6992d","#ff9d9a","#4e79a7","#e15759","#b07aa1","#d37295","#86bcb6","#f1ce63","#a0cbe8","#9d7660","#d37295","#79706e",
     "#d7b5a6","#d4a6c8","#b07aa1","#ff9d9a","#ff9d9a","#ffbe7d","#8cd17d","#4e79a7","#bab0ac","#d7b5a6","#9d7660","#a0cbe8","#4e79a7","#86bcb6","#ffbe7d","#ff9d9a","#fabfd2","#4e79a7","#499894","#f1ce63",
     "#fabfd2","#b07aa1","#d4a6c8","#d7b5a6","#4e79a7","#9d7660","#4e79a7","#f28e2b","#9d7660","#bab0ac",
     "#a0cbe8","#e15759","#d37295","#4e79a7","#e15759","#4e79a7","#59a14f","#79706e","#8cd17d","#d37295",
     "#499894","#e15759","#b6992d","#bab0ac","#9d7660","#f28e2b","#a0cbe8","#59a14f","#d4a6c8","#86bcb6",
     "#f1ce63","#ff9d9a","#ffbe7d","#79706e","#fabfd2","#b6992d","#b07aa1","#499894","#8cd17d","#d7b5a6",
     "#f28e2b","#4e79a7","#d37295","#bab0ac","#ff9d9a","#86bcb6","#59a14f","#9d7660","#e15759","#a0cbe8",
     "#f1ce63","#d4a6c8","#79706e","#ffbe7d","#499894","#b6992d","#d7b5a6","#b07aa1","#8cd17d","#fabfd2",
     "#4e79a7","#f28e2b","#ff9d9a","#9d7660","#bab0ac","#d37295","#59a14f","#86bcb6","#e15759","#f1ce63"]},
   "legend":{"orient":"none","legendX":1455,"legendY":-97,"title":"City of Residence","titleFontSize":19.5,"titleFontWeight":600,"titleColor":"#333333","titlePadding":7,
             "labelFontSize":20.5,"labelColor":"#555555","symbolType":"square","symbolSize":484,"symbolStrokeWidth":0,"symbolOpacity":1,"symbolOffset":5,
             "rowPadding":11.9,"labelOffset":9,"symbolLimit":42,"labelLimit":300,"padding":0}}
 }},
{"transform":[{"filter":"datum.p"}],
 "mark":{"type":"text","dy":-13,"fontSize":20,"font":"Open Sans"},
 "encoding":{
  "x":{"field":"y","type":"ordinal","scale":{"type":"band","paddingInner":0,"paddingOuter":0},
       "axis":{"orient":"top","title":"Year of Date Filed","titleFontSize":19,"titleFontWeight":600,"titleColor":"#333333","titlePadding":8,"labels":false,"ticks":false,"domain":false,"grid":false}},
  "y":{"field":"m","type":"quantitative","scale":{"domain":[0,12000],"nice":false},"axis":null},
  "text":{"field":"n","type":"quantitative","format":","},
  "color":{"condition":{"test":"datum.c === 'New Britain' && datum.y <= 2017","value":"#222222"},"value":"#ffffff"}
 }},
{"transform":[{"filter":"datum.p"}],
 "mark":{"type":"text","dy":13,"fontSize":20,"font":"Open Sans"},
 "encoding":{
  "x":{"field":"y","type":"ordinal","scale":{"type":"band","paddingInner":0,"paddingOuter":0},"axis":null},
  "y":{"field":"m","type":"quantitative","scale":{"domain":[0,12000],"nice":false},"axis":null},
  "text":{"field":"p","type":"nominal"},
  "color":{"condition":{"test":"datum.c === 'New Britain' && datum.y <= 2017","value":"#222222"},"value":"#ffffff"}
 }}
],
"resolve":{"axis":{"x":"independent","y":"independent"}}
}
